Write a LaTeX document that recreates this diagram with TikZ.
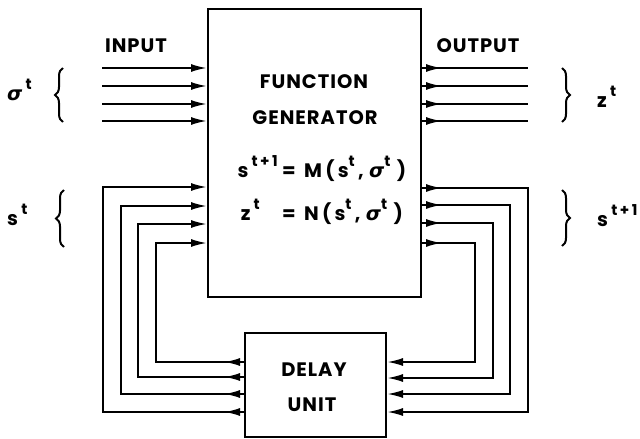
\documentclass[tikz,border=0pt]{standalone}
\usepackage{fontspec}
\setmainfont{Poppins}[LetterSpace=5]
\newfontfamily\grk{DejaVu Sans}
\usetikzlibrary{arrows.meta,decorations.pathreplacing,decorations.markings}
\newcommand{\up}[1]{\raisebox{0.55em}{\fontsize{15}{15}\selectfont #1}}
\newcommand{\sg}{{\grk\bfseries\itshape σ}}
\begin{document}
\begin{tikzpicture}[x=1pt,y=-1pt,
  box/.style={draw,line width=2pt,inner sep=0pt},
  wire/.style={line width=2pt},
  tipend/.style={-{Latex[length=16pt,width=8pt]}},
  tipstart/.style={postaction={decorate,decoration={markings,mark=at position 20pt with {\arrow{Latex[length=16pt,width=8pt]}}}}},
  lbl/.style={font=\fontsize{19.5}{22}\selectfont\bfseries},
  brc/.style={decorate,decoration={brace,amplitude=8pt},line width=2pt}]
\useasboundingbox (0,0) rectangle (640,439);
\node[box,minimum width=213pt,minimum height=288pt] (fg) at (314.5,153) {};
\node[box,minimum width=141pt,minimum height=104pt] (du) at (315.5,385) {};
% texts in boxes
\node[lbl] (t1) at (314,82) {FUNCTION};
\node[lbl] (t2) at (315,118) {GENERATOR};
\node[lbl,anchor=base east,inner sep=0pt] (e1l) at (278,177) {s\,\up{t\,+\,1}};
\node[lbl,anchor=base west,inner sep=0pt] (e1r) at (282,177) {=\, M\,(\,s\up{t}\,,\;\sg\up{t}\,\,)};
\node[lbl,anchor=base east,inner sep=0pt] (e2l) at (260,220) {z\,\up{t}};
\node[lbl,anchor=base west,inner sep=0pt] (e2r) at (282,220) {=\, N\,(\,s\up{t}\,,\;\sg\up{t}\,\,)};
\node[lbl] (d1) at (314,370) {DELAY};
\node[lbl] (d2) at (312,405) {UNIT};
% outside labels
\node[lbl] (inp) at (136,46) {INPUT};
\node[lbl] (outp) at (478,46) {OUTPUT};
\node[lbl,anchor=base west,inner sep=0pt] (lsig) at (7,100) {\sg\,\up{t}};
\node[lbl,anchor=base west,inner sep=0pt] (lz) at (597,107) {z\,\up{t}};
\node[lbl,anchor=base west,inner sep=0pt] (ls) at (7,225) {s\,\up{t}};
\node[lbl,anchor=base west,inner sep=0pt] (ls1) at (597,226) {s\,\up{t\,+\,1}};
% braces
\draw[brc] (63,122) -- (63,68);
\draw[brc] (64,247) -- (64,190);
\draw[brc] (562,68) -- (562,122);
\draw[brc] (562,190) -- (562,246);
% input and output lines
\foreach \y in {68,86,104,121} {
  \draw[wire,tipend] (102,\y) -- (fg.west |- 0,\y);
  \draw[wire,tipstart] (fg.east |- 0,\y) -- (528,\y);
}
% feedback on the left: delay unit -> function generator
\foreach \yt/\xv/\yb in {187/103/412, 206/121/394, 224/138/377, 243/156/362} {
  \draw[wire,tipstart,tipend] (du.west |- 0,\yb) -- (\xv,\yb) -- (\xv,\yt) -- (fg.west |- 0,\yt);
}
% feedback on the right: function generator -> delay unit
\foreach \yt/\xv/\yb in {188/528/412, 205/510/394, 223/493/378, 243/475/362} {
  \draw[wire,tipstart,tipend] (fg.east |- 0,\yt) -- (\xv,\yt) -- (\xv,\yb) -- (du.east |- 0,\yb);
}
\end{tikzpicture}
\end{document}
